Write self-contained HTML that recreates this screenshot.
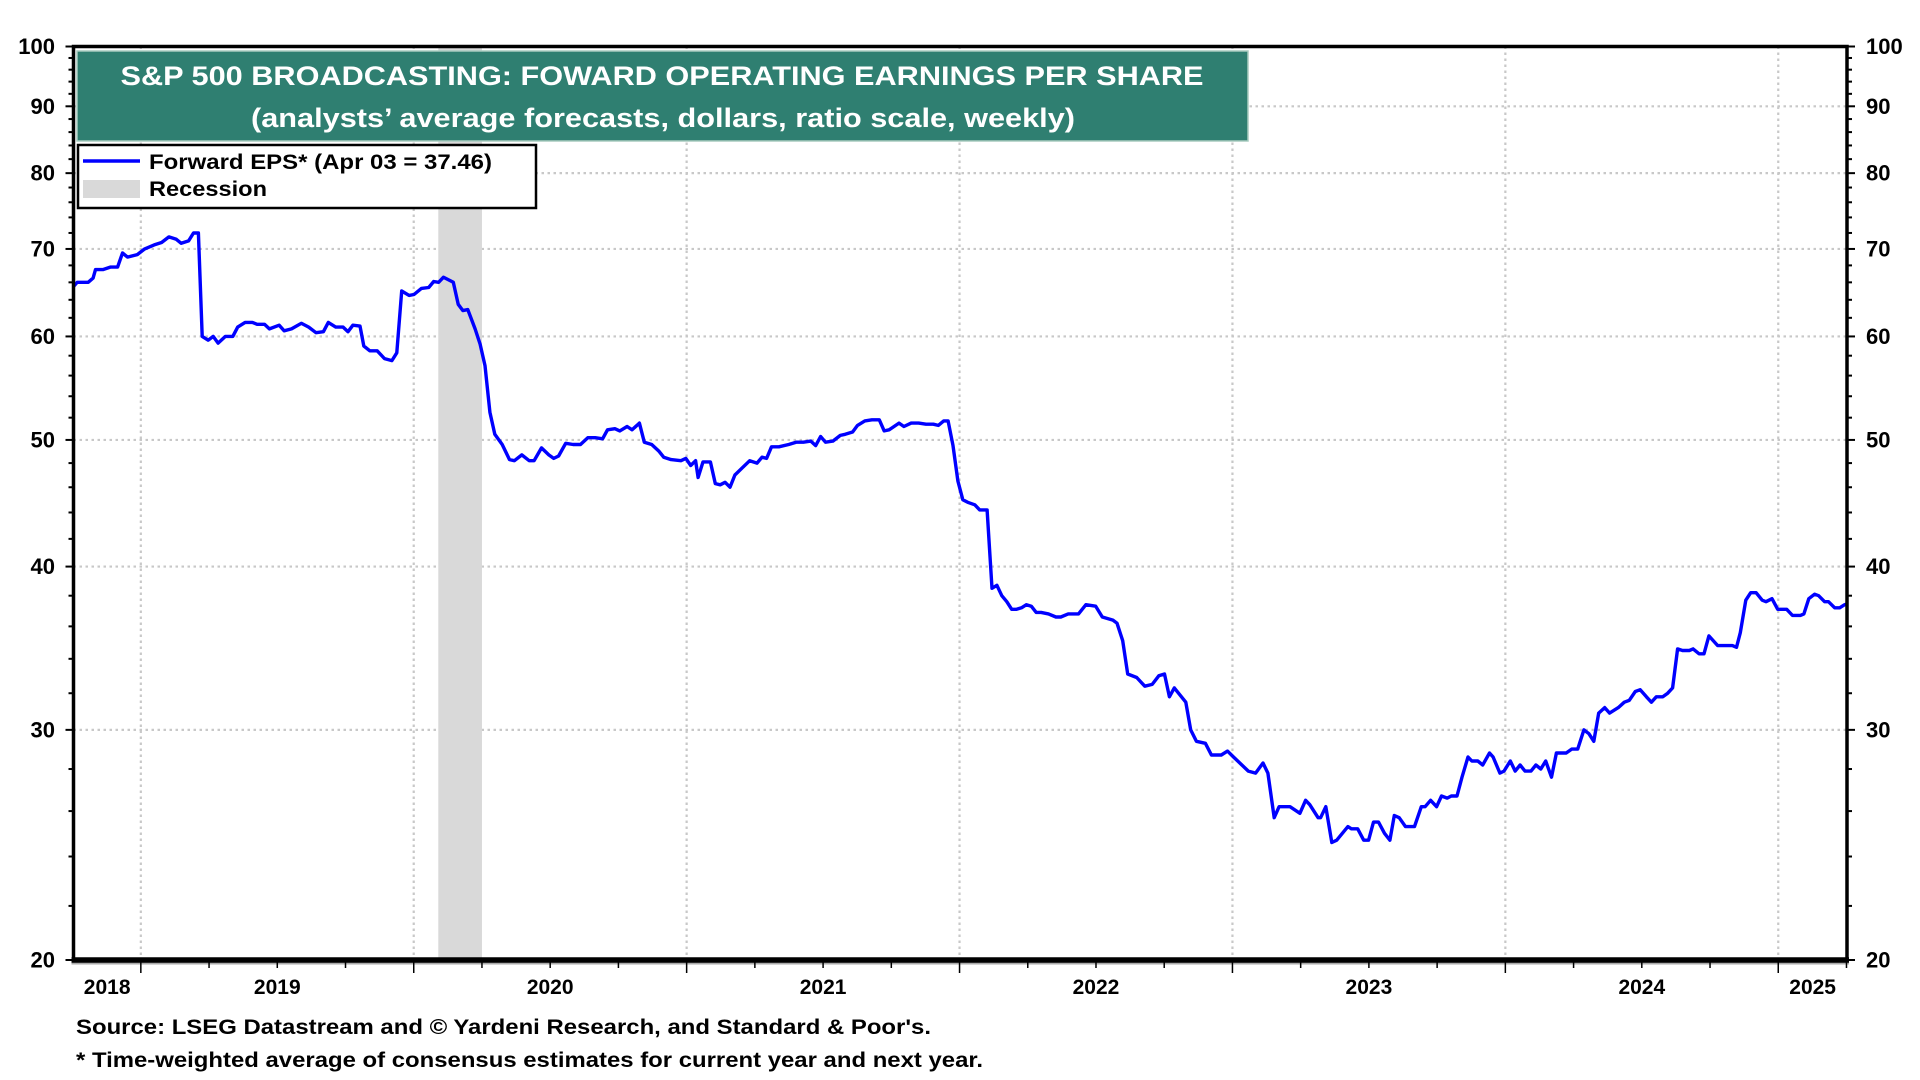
<!DOCTYPE html>
<html><head><meta charset="utf-8"><title>S&amp;P 500 Broadcasting Forward EPS</title>
<style>
html,body{margin:0;padding:0;background:#fff;}
svg{display:block;font-family:"Liberation Sans",Arial,sans-serif;}
</style></head>
<body>
<svg id="chart" width="1920" height="1080" viewBox="0 0 1920 1080" xmlns="http://www.w3.org/2000/svg">
  <g id="grid"></g>
  <g id="recess"></g>
  <g id="series"></g>
  <g id="axes"></g>
  <g>
    <rect x="77" y="51" width="1171" height="90" fill="#2f7f71" stroke="#a8cbbf" stroke-width="1.5"/>
    <text x="662" y="85" text-anchor="middle" fill="#fff" font-weight="bold" font-size="27" textLength="1083" lengthAdjust="spacingAndGlyphs">S&amp;P 500 BROADCASTING: FOWARD OPERATING EARNINGS PER SHARE</text>
    <text x="663" y="127" text-anchor="middle" fill="#fff" font-weight="bold" font-size="27" textLength="824" lengthAdjust="spacingAndGlyphs">(analysts’ average forecasts, dollars, ratio scale, weekly)</text>
  </g>
  <g>
    <rect x="78" y="145" width="458" height="63" fill="#fff" stroke="#000" stroke-width="2.5"/>
    <g>
      <line x1="83" y1="161" x2="140" y2="161" stroke="#0000ff" stroke-width="3.5"/>
      <text x="149" y="169" font-weight="bold" font-size="21" textLength="343" lengthAdjust="spacingAndGlyphs">Forward EPS* (Apr 03 = 37.46)</text>
    </g>
    <g>
      <rect x="83" y="180" width="57" height="18" fill="#d9d9d9"/>
      <text x="149" y="196" font-weight="bold" font-size="21" textLength="118" lengthAdjust="spacingAndGlyphs">Recession</text>
    </g>
  </g>
  <text x="76" y="1034" font-weight="bold" font-size="21" textLength="855" lengthAdjust="spacingAndGlyphs">Source: LSEG Datastream and © Yardeni Research, and Standard &amp; Poor's.</text>
  <text x="76" y="1067" font-weight="bold" font-size="21" textLength="907" lengthAdjust="spacingAndGlyphs">* Time-weighted average of consensus estimates for current year and next year.</text>
</svg>
<script>
const dates = [2018.753,2018.767,2018.807,2018.825,2018.834,2018.861,2018.888,2018.915,2018.933,2018.951,2018.987,2019.014,2019.049,2019.076,2019.103,2019.130,2019.148,2019.175,2019.193,2019.211,2019.225,2019.247,2019.265,2019.283,2019.310,2019.337,2019.355,2019.382,2019.409,2019.426,2019.453,2019.471,2019.507,2019.525,2019.552,2019.588,2019.615,2019.642,2019.669,2019.687,2019.714,2019.741,2019.759,2019.777,2019.803,2019.817,2019.839,2019.866,2019.893,2019.920,2019.938,2019.956,2019.983,2020.001,2020.028,2020.055,2020.073,2020.091,2020.109,2020.145,2020.163,2020.180,2020.198,2020.225,2020.243,2020.261,2020.279,2020.297,2020.324,2020.351,2020.369,2020.396,2020.423,2020.441,2020.468,2020.495,2020.513,2020.531,2020.557,2020.584,2020.611,2020.638,2020.665,2020.692,2020.710,2020.737,2020.755,2020.782,2020.800,2020.827,2020.845,2020.872,2020.899,2020.916,2020.943,2020.979,2020.997,2021.015,2021.033,2021.042,2021.060,2021.087,2021.105,2021.123,2021.141,2021.159,2021.177,2021.204,2021.231,2021.258,2021.276,2021.293,2021.311,2021.338,2021.374,2021.401,2021.428,2021.455,2021.473,2021.491,2021.509,2021.536,2021.563,2021.581,2021.608,2021.626,2021.653,2021.679,2021.706,2021.724,2021.742,2021.778,2021.796,2021.823,2021.850,2021.877,2021.904,2021.922,2021.942,2021.958,2021.976,2021.994,2022.012,2022.030,2022.056,2022.074,2022.101,2022.119,2022.137,2022.155,2022.173,2022.191,2022.209,2022.227,2022.245,2022.263,2022.281,2022.299,2022.326,2022.353,2022.371,2022.398,2022.436,2022.463,2022.499,2022.523,2022.562,2022.577,2022.598,2022.616,2022.649,2022.679,2022.706,2022.730,2022.751,2022.769,2022.787,2022.829,2022.847,2022.868,2022.901,2022.923,2022.959,2022.982,2023.004,2023.058,2023.085,2023.112,2023.130,2023.153,2023.171,2023.189,2023.211,2023.247,2023.268,2023.283,2023.314,2023.323,2023.342,2023.364,2023.382,2023.423,2023.436,2023.459,2023.481,2023.499,2023.517,2023.535,2023.557,2023.577,2023.593,2023.611,2023.634,2023.667,2023.692,2023.706,2023.726,2023.748,2023.766,2023.787,2023.802,2023.823,2023.841,2023.863,2023.877,2023.899,2023.917,2023.942,2023.955,2023.980,2023.995,2024.018,2024.036,2024.054,2024.072,2024.094,2024.112,2024.130,2024.148,2024.169,2024.187,2024.223,2024.243,2024.265,2024.288,2024.306,2024.324,2024.342,2024.364,2024.382,2024.414,2024.436,2024.454,2024.476,2024.494,2024.517,2024.535,2024.553,2024.577,2024.595,2024.613,2024.631,2024.649,2024.674,2024.688,2024.710,2024.728,2024.746,2024.778,2024.796,2024.832,2024.847,2024.861,2024.881,2024.899,2024.919,2024.941,2024.955,2024.977,2024.998,2025.031,2025.052,2025.081,2025.094,2025.112,2025.133,2025.148,2025.170,2025.184,2025.207,2025.225,2025.243,2025.254];
const eps = [65.5,66,66,66.5,67.5,67.5,67.8,67.8,69.5,69,69.3,70,70.5,70.8,71.5,71.2,70.7,71,72,72,60,59.6,60,59.3,60,60,61,61.5,61.5,61.3,61.3,60.8,61.2,60.6,60.8,61.4,61,60.4,60.5,61.5,61,61,60.5,61.2,61.1,59,58.5,58.5,57.7,57.5,58.3,65,64.5,64.6,65.3,65.4,66.1,66,66.6,66,63.5,62.8,62.9,60.8,59.2,57,52.5,50.5,49.6,48.3,48.2,48.7,48.2,48.2,49.3,48.7,48.4,48.6,49.7,49.6,49.6,50.2,50.2,50.1,50.9,51,50.8,51.2,50.9,51.5,49.8,49.6,49,48.5,48.3,48.2,48.4,47.8,48.2,46.8,48.1,48.1,46.3,46.2,46.4,46.0,47,47.6,48.2,48.0,48.5,48.4,49.4,49.4,49.6,49.8,49.8,49.9,49.5,50.3,49.8,49.9,50.4,50.5,50.7,51.3,51.7,51.8,51.8,50.8,50.9,51.5,51.2,51.5,51.5,51.4,51.4,51.3,51.7,51.7,49.5,46.5,45,44.8,44.6,44.2,44.2,38.5,38.7,38.0,37.6,37.1,37.1,37.2,37.4,37.3,36.9,36.9,36.8,36.6,36.6,36.8,36.8,37.4,37.3,36.6,36.4,36.2,35.1,33.1,32.9,32.4,32.5,33.0,33.1,31.8,32.3,31.5,30.0,29.4,29.3,28.7,28.7,28.9,28.6,27.9,27.8,28.3,27.8,25.7,26.2,26.2,26.2,25.9,26.5,26.3,25.7,25.7,26.2,24.6,24.7,25.3,25.2,25.2,24.7,24.7,25.5,25.5,25.0,24.7,25.8,25.7,25.3,25.3,26.2,26.2,26.5,26.2,26.7,26.6,26.7,26.7,27.6,28.6,28.4,28.4,28.2,28.8,28.6,27.8,27.9,28.4,27.9,28.2,27.9,27.9,28.2,28.0,28.4,27.6,28.8,28.8,29.0,29.0,30.0,29.8,29.4,30.9,31.2,30.9,31.2,31.5,31.6,32.1,32.2,31.8,31.5,31.8,31.8,32.0,32.3,34.6,34.5,34.5,34.6,34.3,34.3,35.4,34.8,34.8,34.8,34.7,35.6,37.7,38.2,38.2,37.7,37.6,37.8,37.1,37.1,36.7,36.7,36.8,37.8,38.1,38.0,37.6,37.6,37.2,37.2,37.4,37.46];
const yearLabels = ["2018","2019","2020","2021","2022","2023","2024","2025"];
const yearStarts = [2018,2019,2020,2021,2022,2023,2024,2025];
const yTickValues = [20,30,40,50,60,70,80,90,100];
const yGridValues = [30,40,50,60,70,80,90];
const recessionStart = [2020.09];
const recessionEnd = [2020.25];

const NS = "http://www.w3.org/2000/svg";
const L = 73.5, R = 1847, T = 46.5, B = 960;
const X0 = 2018.484 + 60*0.004488, X1 = 2018.484 + 1508*0.004488;
const xScale = t => L + (t - X0) / (X1 - X0) * (R - L);
const yScale = v => B - Math.log(v / 20) / Math.log(100 / 20) * (B - T);
function mk(tag, attrs, parent) {
  const e = document.createElementNS(NS, tag);
  for (const k in attrs) e.setAttribute(k, attrs[k]);
  parent.appendChild(e);
  return e;
}
const grid = document.getElementById('grid');
const axes = document.getElementById('axes');
const rec = document.getElementById('recess');
const ser = document.getElementById('series');

yGridValues.forEach(v => {
  const y = yScale(v);
  const g = mk('line', {x1: L, x2: R, y1: y, y2: y, stroke: '#c8c8c8', 'stroke-width': 2.2, 'stroke-dasharray': '2.5 3.5'}, grid);
  
  
});
yearStarts.forEach(t => {
  if (t <= X0 || t >= X1) return;
  const x = xScale(t);
  const g = mk('line', {x1: x, x2: x, y1: T, y2: B, stroke: '#c8c8c8', 'stroke-width': 2.2, 'stroke-dasharray': '2.5 3.5'}, grid);
  
  
});
recessionStart.forEach((s, i) => {
  const x0 = xScale(s), x1 = xScale(recessionEnd[i]);
  const r = mk('rect', {x: x0, y: T, width: x1 - x0, height: B - T, fill: '#d9d9d9'}, rec);
  
  
});

let d = '';
dates.forEach((t, i) => { d += (i ? 'L' : 'M') + xScale(t).toFixed(1) + ',' + yScale(eps[i]).toFixed(1); });
const path = mk('path', {d: d, fill: 'none', stroke: '#0000ff', 'stroke-width': 3.4, 'stroke-linejoin': 'round'}, ser);



// frame
const frame = mk('path', {d: `M${L},${B} L${L},${T} L${R},${T} L${R},${B}`, fill: 'none', stroke: '#000', 'stroke-width': 3.5}, axes);


const xb2 = mk('line', {x1: L - 2, x2: R + 2, y1: B + 3, y2: B + 3, stroke: '#aaa', 'stroke-width': 3}, axes);


const xb = mk('line', {x1: L - 2, x2: R + 2, y1: B, y2: B, stroke: '#000', 'stroke-width': 5.5}, axes);



// y ticks
for (let v = 20; v <= 100; v += 2) {
  const y = yScale(v);
  const major = v % 10 === 0;
  const len = major ? 8 : 5;
  const tl = mk('line', {x1: L - len, x2: L, y1: y, y2: y, stroke: '#000', 'stroke-width': 2}, axes);
  
  
  const tr = mk('line', {x1: R, x2: R + len, y1: y, y2: y, stroke: '#000', 'stroke-width': 2}, axes);
  
  
}
yTickValues.forEach(v => {
  const y = yScale(v);
  const a = mk('text', {x: 55, y: y + 7.5, 'text-anchor': 'end', 'font-size': 22, 'font-weight': 'bold'}, axes);
  a.textContent = v;
  
  
  const b = mk('text', {x: 1866, y: y + 7.5, 'text-anchor': 'start', 'font-size': 22, 'font-weight': 'bold'}, axes);
  b.textContent = v;
  
  
});
// x ticks quarterly
for (let q = 2018.75; q <= 2025.25; q += 0.25) {
  if (q < X0 - 0.001 || q > X1 + 0.001) continue;
  const x = xScale(q);
  const yr = Math.abs(q - Math.round(q)) < 0.001;
  const tk = mk('line', {x1: x, x2: x, y1: B, y2: B + (yr ? 13 : 8), stroke: '#000', 'stroke-width': 1.5}, axes);
  
  
}
yearLabels.forEach((lab, i) => {
  const a = Math.max(yearStarts[i], X0), b = Math.min(yearStarts[i] + 1, X1);
  const x = xScale((a + b) / 2);
  const t = mk('text', {x: x, y: 994, 'text-anchor': 'middle', 'font-size': 21, 'font-weight': 'bold'}, axes);
  t.textContent = lab;
  
  
});
</script>
</body></html>
